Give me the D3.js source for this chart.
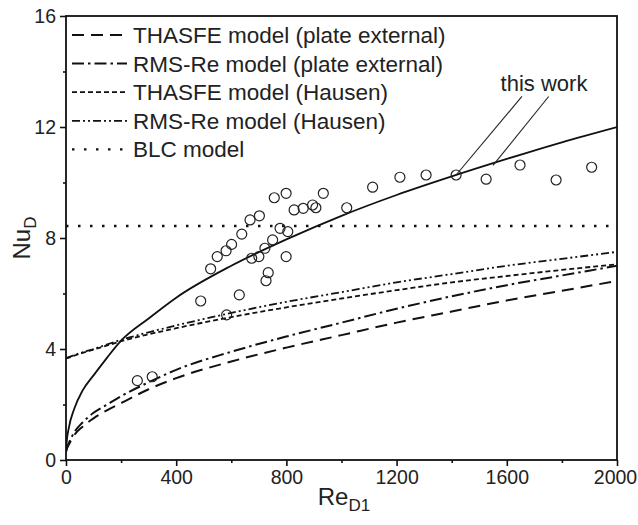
<!DOCTYPE html>
<html>
<head>
<meta charset="utf-8">
<script src="https://cdn.jsdelivr.net/npm/d3@7"></script>
<style>
  body { margin: 0; background: #fff; }
  text { font-family: "Liberation Sans", Arial, sans-serif; fill: #222; }
</style>
</head>
<body>
<div id="canva"></div>
<script>
// Re values for the model curves
const reGrid = [0, 3, 10, 30, 60, 100, 150, 200, 300, 400, 600, 800, 1000, 1200, 1400, 1600, 1800, 2000];

const thisWork   = [0.3, 0.7, 1.15, 1.85, 2.5, 3.05, 3.7, 4.3, 5.1, 5.85, 7.0, 7.95, 8.8, 9.55, 10.22, 10.85, 11.45, 12.0];
const thasfePlate = [0.3, 0.4, 0.55, 0.9, 1.2, 1.5, 1.8, 2.05, 2.55, 2.95, 3.55, 4.05, 4.5, 4.95, 5.35, 5.75, 6.1, 6.45];
const rmsPlate    = [0.3, 0.42, 0.6, 1.0, 1.35, 1.7, 2.0, 2.3, 2.8, 3.25, 3.9, 4.45, 4.95, 5.45, 5.9, 6.3, 6.65, 7.0];
const thasfeHausen = [3.66, 3.67, 3.69, 3.76, 3.86, 3.98, 4.13, 4.28, 4.53, 4.75, 5.15, 5.5, 5.82, 6.12, 6.4, 6.63, 6.85, 7.05];
const rmsHausen    = [3.68, 3.69, 3.71, 3.78, 3.88, 4.0, 4.17, 4.33, 4.6, 4.85, 5.3, 5.7, 6.05, 6.4, 6.7, 7.0, 7.25, 7.5];
const blcNu = 8.43;

// experimental points
const expRe = [259, 313, 489, 525, 549, 581, 583, 601, 629, 638, 668, 674, 700, 702, 722, 726, 734, 750, 756,
  777, 799, 799, 805, 828, 861, 895, 907, 934, 1019, 1113, 1212, 1307, 1416, 1525, 1648, 1779, 1908];
const expNu = [2.86, 3.0, 5.73, 6.89, 7.33, 7.54, 5.23, 7.77, 5.95, 8.14, 8.65, 7.27, 7.33, 8.8, 7.63, 6.46, 6.75, 7.93, 9.45,
  8.35, 9.61, 7.33, 8.23, 9.01, 9.07, 9.19, 9.09, 9.61, 9.09, 9.83, 10.19, 10.27, 10.27, 10.12, 10.63, 10.09, 10.55];

const xTicks = [0, 400, 800, 1200, 1600, 2000];
const yTicks = [0, 4, 8, 12, 16];

const legendNames = ["THASFE model (plate external)", "RMS-Re model (plate external)",
  "THASFE model (Hausen)", "RMS-Re model (Hausen)", "BLC model"];

const width = 638, height = 525;
const margin = { top: 16, right: 21, bottom: 65, left: 66 };
const iwidth = width - margin.left - margin.right;
const iheight = height - margin.top - margin.bottom;

const styles = [
  { dash: "12,7", w: 2 },
  { dash: "12,4,2.5,4", w: 2 },
  { dash: "5,3", w: 1.8 },
  { dash: "8,3,2,3,2,3", w: 1.8 },
  { dash: "2.5,9.5", w: 2.4 }
];

const svg = d3.select("#canva").append("svg").attr("width", width).attr("height", height);
const g = svg.append("g").attr("transform", `translate(${margin.left},${margin.top})`);

const x = d3.scaleLinear().domain([0, 2000]).range([0, iwidth]);
const y = d3.scaleLinear().domain([0, 16]).range([iheight, 0]);

g.append("defs").append("clipPath").attr("id", "clip")
  .append("rect").attr("width", iwidth).attr("height", iheight);

const line = d3.line().x((d) => x(d[0])).y((d) => y(d[1])).curve(d3.curveMonotoneX);
const plot = g.append("g").attr("clip-path", "url(#clip)");

const series = [thasfePlate, rmsPlate, thasfeHausen, rmsHausen];
series.forEach((vals, i) => {
  plot.append("path")
    .attr("d", line(reGrid.map((r, j) => [r, vals[j]])))
    .attr("fill", "none").attr("stroke", "#111")
    .attr("stroke-width", styles[i].w).attr("stroke-dasharray", styles[i].dash);
});

plot.append("path")
  .attr("d", line([[0, blcNu], [2000, blcNu]]))
  .attr("fill", "none").attr("stroke", "#111")
  .attr("stroke-width", styles[4].w).attr("stroke-dasharray", styles[4].dash);

plot.append("path")
  .attr("d", line(reGrid.map((r, j) => [r, thisWork[j]])))
  .attr("fill", "none").attr("stroke", "#111").attr("stroke-width", 1.8);

plot.selectAll("circle").data(expRe).enter().append("circle")
  .attr("cx", (d) => x(d)).attr("cy", (d, i) => y(expNu[i])).attr("r", 5)
  .attr("fill", "none").attr("stroke", "#222").attr("stroke-width", 1.2);

// "this work" annotation
g.append("line").attr("x1", x(1655)).attr("y1", y(13.1)).attr("x2", x(1416)).attr("y2", y(10.27))
  .attr("stroke", "#222").attr("stroke-width", 1.1);
g.append("line").attr("x1", x(1752)).attr("y1", y(13.1)).attr("x2", x(1550)).attr("y2", y(10.62))
  .attr("stroke", "#222").attr("stroke-width", 1.1);
g.append("text").attr("x", x(1735)).attr("y", y(13.28)).attr("text-anchor", "middle")
  .style("font-size", "22px").text("this work");

// legend
const leg = g.append("g").attr("transform", "translate(6,19)");
legendNames.forEach((name, i) => {
  const yy = i * 28.6;
  leg.append("line").attr("x1", 0).attr("x2", 55).attr("y1", yy).attr("y2", yy)
    .attr("stroke", "#111").attr("stroke-width", styles[i].w).attr("stroke-dasharray", styles[i].dash);
  leg.append("text").attr("x", 61).attr("y", yy + 8).style("font-size", "22.5px").text(name);
});

// axes
const xAxis = g.append("g").attr("transform", `translate(0,${iheight})`)
  .call(d3.axisBottom(x).tickValues(xTicks).tickSize(6).tickPadding(4).tickFormat(d3.format("d")));
g.append("g").attr("transform", `translate(0,${iheight})`)
  .call(d3.axisBottom(x).tickValues(d3.range(200, 2000, 400)).tickSize(3).tickFormat(""));
g.append("g")
  .call(d3.axisLeft(y).tickValues(yTicks).tickSize(6).tickPadding(4));
g.append("g")
  .call(d3.axisLeft(y).tickValues([2, 6, 10, 14]).tickSize(3).tickFormat(""));

g.selectAll(".domain").remove();
g.selectAll(".tick line").attr("stroke", "#111").attr("stroke-width", 1.6);
g.selectAll(".tick text").style("font-size", "19.5px").attr("fill", "#222");
// keep the last label inside the window
xAxis.selectAll(".tick text").filter((d) => d === 2000).attr("dx", -2);

g.append("rect").attr("width", iwidth).attr("height", iheight)
  .attr("fill", "none").attr("stroke", "#111").attr("stroke-width", 1.8);

// axis titles
const yt = svg.append("text").attr("transform", "translate(30,238) rotate(-90)")
  .attr("text-anchor", "middle").style("font-size", "24px");
yt.append("tspan").text("Nu");
yt.append("tspan").attr("dy", 6).style("font-size", "17px").text("D");

const xt = svg.append("text").attr("x", 344).attr("y", 505)
  .attr("text-anchor", "middle").style("font-size", "24px");
xt.append("tspan").text("Re");
xt.append("tspan").attr("dy", 6).style("font-size", "17px").text("D1");
</script>
</body>
</html>
